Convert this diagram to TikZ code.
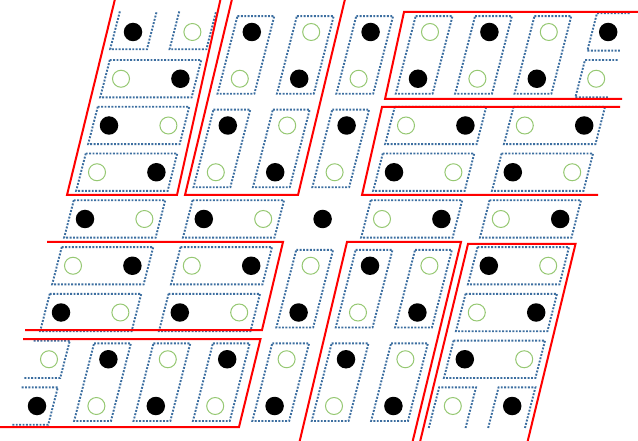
\documentclass[tikz,border=0pt]{standalone}
\definecolor{dotblue}{RGB}{60,110,160}
\definecolor{ringgreen}{RGB}{150,200,115}
\tikzset{
  dimer/.style={draw=dotblue, line width=1.9pt, dash pattern=on 1.9pt off 1.5pt},
  wall/.style={draw=red, line width=2pt},
  filled/.style={circle, fill=black, minimum size=18.5pt, inner sep=0pt},
  ring/.style={circle, draw=ringgreen, line width=1pt, minimum size=17pt, inner sep=0pt},
}
\newcommand\hdimer[2]{\draw[dimer] ({#1-0.27},{#2-0.4}) -- ({#1+1.27},{#2-0.4}) -- ({#1+1.27},{#2+0.4}) -- ({#1-0.27},{#2+0.4}) -- cycle;}
\newcommand\vdimer[2]{\draw[dimer] ({#1-0.31},{#2-0.34}) -- ({#1+0.31},{#2-0.34}) -- ({#1+0.31},{#2+1.32}) -- ({#1-0.31},{#2+1.32}) -- cycle;}
\begin{document}
\begin{tikzpicture}[x=1pt,y=1pt]
\useasboundingbox (0,0) rectangle (638,440);
\clip (0,0) rectangle (638,440);
\begin{scope}[shift={(133,408)}, x={(59.4pt,0pt)}, y={(-12pt,-46.75pt)}]
  % full dimers
  \foreach \c/\r in {0/1,0/2,0/3,5/2,7/2,5/3,7/3,0/4,2/4,5/4,7/4,0/5,2/5,0/6,2/6,7/5,7/6,7/7} {\hdimer{\c}{\r}}
  \foreach \c/\r in {2/0,3/0,4/0,5/0,6/0,7/0,2/2,3/2,4/2,4/5,5/5,6/5,1/7,2/7,3/7,4/7,5/7,6/7} {\vdimer{\c}{\r}}
  % partial dimers at the borders
  \foreach \c in {0,1} {\draw[dimer] ({\c-0.31},-0.44) -- ({\c-0.31},0.37) -- ({\c+0.31},0.37) -- ({\c+0.31},-0.44);}
  \foreach \r in {0,1} {\draw[dimer] (8.28,{\r-0.4}) -- (7.73,{\r-0.4}) -- (7.73,{\r+0.4}) -- (8.28,{\r+0.4});}
  \foreach \r in {7,8} {\draw[dimer] (-0.34,{\r-0.4}) -- (0.27,{\r-0.4}) -- (0.27,{\r+0.4}) -- (-0.34,{\r+0.4});}
  \foreach \c in {7,8} {\draw[dimer] ({\c-0.31},8.47) -- ({\c-0.31},7.6) -- ({\c+0.31},7.6) -- ({\c+0.31},8.47);}
  % lattice sites
  \foreach \r in {0,...,8} {
    \foreach \c in {0,...,8} {
      \pgfmathtruncatemacro\parity{mod(\r+\c,2)}
      \ifnum\parity=0
        \node[filled] (d-\r-\c) at (\c,\r) {};
      \else
        \node[ring] (d-\r-\c) at (\c,\r) {};
      \fi
    }
  }
\end{scope}
\begin{scope}[shift={(0,440)}, yscale=-1]
  \draw[wall] (115.5,-3) -- (67,195) -- (177,195) -- (221,-3);
  \draw[wall] (232.5,-3) -- (185,195) -- (298,195) -- (345.5,-3);
  \draw[wall] (640,12) -- (404,12) -- (385,99) -- (622,99);
  \draw[wall] (620,107) -- (382,107) -- (362,195) -- (598,195);
  \draw[wall] (47,242) -- (283,242) -- (262,330) -- (25,330);
  \draw[wall] (23,339) -- (260.5,339) -- (239,427) -- (-2,427);
  \draw[wall] (299,444) -- (347,242) -- (461,242) -- (412,444);
  \draw[wall] (419.5,444) -- (468,244) -- (575.5,244) -- (527,444);
\end{scope}
\end{tikzpicture}
\end{document}
